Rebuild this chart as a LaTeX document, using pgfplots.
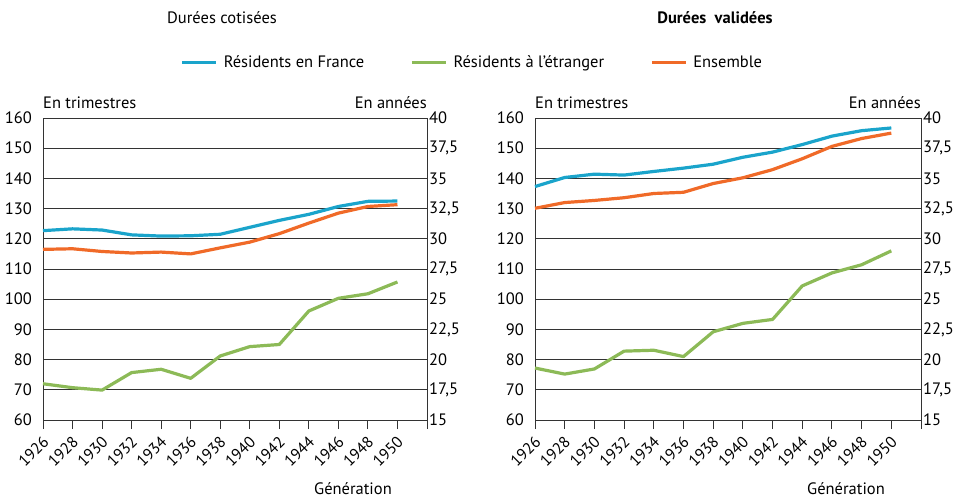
\documentclass[border=0pt]{standalone}
\usepackage{fontspec}
\setmainfont{PT Sans}
\usepackage{graphicx}
\usepackage{pgfplots}
\pgfplotsset{compat=1.18}
\definecolor{cblue}{HTML}{1AA4CB}
\definecolor{cgreen}{HTML}{8CBA57}
\definecolor{corange}{HTML}{F06A28}
\definecolor{cgrid}{HTML}{333333}
\newcommand\f{\fontsize{16.5}{19}\selectfont}
\newcommand\fx{\fontsize{16}{18}\selectfont}
\newcommand\rl[1]{\rotatebox{45}{#1}}
\pgfplotsset{
  base/.style={
    scale only axis, width=384pt, height=302pt,
    xmin=1926, xmax=1952, ymin=60, ymax=160,
    /pgf/number format/assume math mode=true,
    xtick={1926,1928,...,1952},
    xticklabels={\rl{1926},\rl{1928},\rl{1930},\rl{1932},\rl{1934},\rl{1936},\rl{1938},\rl{1940},\rl{1942},\rl{1944},\rl{1946},\rl{1948},\rl{1950},{}},
    ytick={60,70,...,160},
    ymajorgrids, grid style={draw=cgrid, line width=0.9pt},
    axis line style={draw=cgrid, line width=0.9pt},
    xtick pos=bottom, tick align=outside, major tick length=9pt,
    xtick style={draw=cgrid, line width=0.9pt},
    ytick style={draw=none},
    yticklabel style={font=\f, inner xsep=2pt},
    xticklabel style={font=\fx, anchor=north east, inner sep=0pt, xshift=7pt, yshift=-6pt},
    every axis plot/.append style={line width=3.2pt, no marks, line join=round},
    clip=false,
  },
  twin/.style={
    scale only axis, width=384pt, height=302pt,
    xmin=1926, xmax=1952, ymin=15, ymax=40,
    axis x line=none, axis y line*=right,
    axis line style={draw=cgrid, line width=0.9pt},
    ytick={15,17.5,...,40},
    ytick style={draw=none},
    /pgf/number format/.cd, use comma, fixed, precision=1, assume math mode=true,
    /pgfplots/.cd,
    yticklabel style={font=\f, inner xsep=2pt},
  },
}
\begin{document}
\begin{tikzpicture}
\path[use as bounding box] (0,0) rectangle (957pt,498pt);
% ---------- left ----------
\begin{axis}[base, at={(43pt,78pt)}, anchor=south west,
  legend style={at={(1.118,1.185)}, anchor=center, draw=none, fill=none,
    legend columns=3, font=\f,
    /tikz/every even column/.append style={column sep=44pt},
    /tikz/every odd column/.append style={column sep=4pt}},
  legend image code/.code={\draw[#1, line width=3.2pt] (0pt,0pt) -- (34pt,0pt);},
]
\addplot[cblue] coordinates {(1926,122.7)(1928,123.3)(1930,122.9)(1932,121.3)(1934,120.9)(1936,121.0)(1938,121.5)(1940,123.8)(1942,126.1)(1944,128.1)(1946,130.7)(1948,132.4)(1950,132.5)};
\addlegendentry{Résidents en France}
\addplot[cgreen] coordinates {(1926,72.0)(1928,70.7)(1930,69.9)(1932,75.7)(1934,76.8)(1936,73.8)(1938,81.2)(1940,84.3)(1942,85.0)(1944,96.1)(1946,100.3)(1948,101.8)(1950,105.7)};
\addlegendentry{Résidents à l’étranger}
\addplot[corange] coordinates {(1926,116.5)(1928,116.7)(1930,115.8)(1932,115.3)(1934,115.6)(1936,115.0)(1938,117.0)(1940,118.9)(1942,121.7)(1944,125.2)(1946,128.5)(1948,130.7)(1950,131.3)};
\addlegendentry{Ensemble}
\node[font=\f, anchor=south west, inner sep=0pt] at (rel axis cs:0,1) [yshift=9pt] {En trimestres};
\node[font=\f, anchor=south east, inner sep=0pt] at (rel axis cs:1,1) [yshift=9pt] {En années};
\end{axis}
\begin{axis}[twin, at={(43pt,78pt)}, anchor=south west]
\end{axis}
% ---------- right ----------
\begin{axis}[base, at={(535pt,78pt)}, anchor=south west, width=386pt]
\addplot[cblue] coordinates {(1926,137.3)(1928,140.3)(1930,141.4)(1932,141.1)(1934,142.3)(1936,143.4)(1938,144.7)(1940,147.0)(1942,148.7)(1944,151.2)(1946,154.0)(1948,155.8)(1950,156.7)};
\addplot[cgreen] coordinates {(1926,77.2)(1928,75.2)(1930,76.9)(1932,82.8)(1934,83.1)(1936,81.0)(1938,89.2)(1940,92.0)(1942,93.3)(1944,104.4)(1946,108.7)(1948,111.4)(1950,116.0)};
\addplot[corange] coordinates {(1926,130.1)(1928,132.0)(1930,132.7)(1932,133.6)(1934,135.0)(1936,135.4)(1938,138.3)(1940,140.2)(1942,142.9)(1944,146.5)(1946,150.6)(1948,153.2)(1950,155.0)};
\node[font=\f, anchor=south west, inner sep=0pt] at (rel axis cs:0,1) [yshift=9pt] {En trimestres};
\node[font=\f, anchor=south east, inner sep=0pt] at (rel axis cs:1,1) [yshift=9pt] {En années};
\end{axis}
\begin{axis}[twin, at={(535pt,78pt)}, anchor=south west, width=386pt]
\end{axis}
% ---------- titles ----------
\node[font=\f] at (222pt,480pt) {Durées cotisées};
\node[font=\f\bfseries] at (715pt,480pt) {Durées\ \ validées};
\node[font=\f] at (353pt,9pt) {Génération};
\node[font=\f] at (846pt,9pt) {Génération};
\end{tikzpicture}
\end{document}
